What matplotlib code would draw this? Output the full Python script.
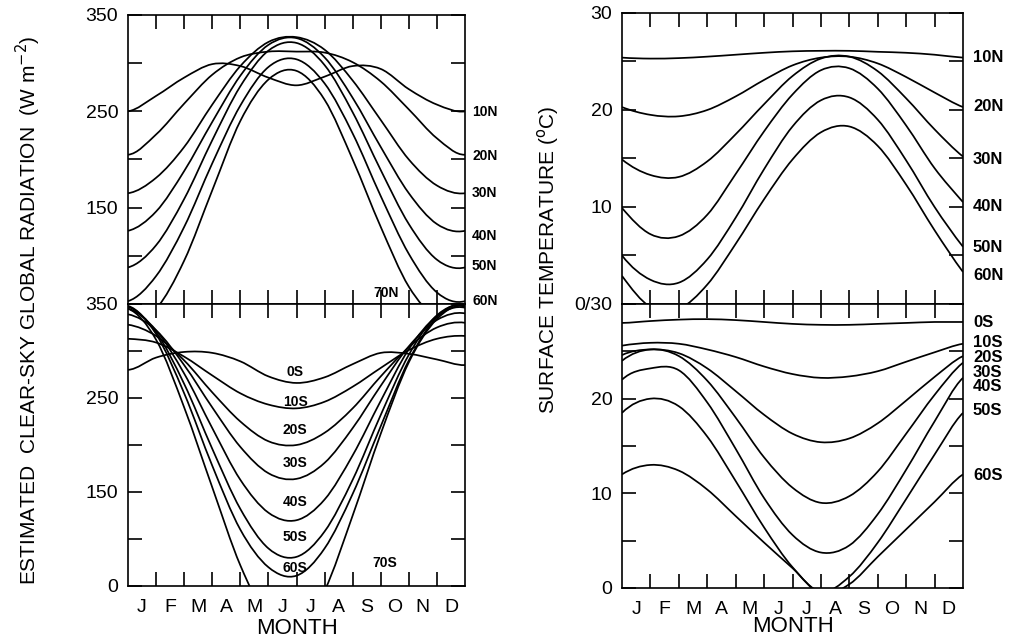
"""Seasonal cycle of clear-sky global radiation and surface temperature by latitude band."""
import numpy as np
import matplotlib
matplotlib.use("Agg")
import matplotlib.pyplot as plt
from matplotlib.path import Path
from matplotlib.patches import PathPatch

plt.rcParams['font.family'] = ['Liberation Sans', 'DejaVu Sans']

MONTHS = ["J", "F", "M", "A", "M", "J", "J", "A", "S", "O", "N", "D"]
edges = np.arange(13)          # month boundaries, 1 Jan .. 31 Dec

# --- estimated clear-sky global radiation (W m-2), read at month boundaries ---
rad_10n = [250, 266, 285, 299, 297, 285, 277, 286, 297, 294, 273, 257, 250]
rad_20n = [205, 226, 258, 288, 306, 312, 312, 311, 301, 281, 252, 222, 205]
rad_30n = [165, 181, 213, 257, 297, 322, 327, 314, 282, 241, 200, 173, 165]
rad_40n = [126, 146, 188, 239, 287, 319, 326, 306, 264, 213, 165, 133, 126]
rad_50n = [88, 111, 159, 220, 276, 313, 321, 298, 249, 189, 133, 96, 88]
rad_60n = [53, 79, 130, 196, 256, 296, 304, 279, 227, 162, 102, 62, 53]
rad_70n = [30, 45, 95, 168, 240, 283, 292, 262, 200, 130, 68, 35, 30]

rad_0s = [280, 293, 299, 298, 289, 273, 266, 272, 286, 298, 297, 291, 285]
rad_10s = [313, 309, 294, 274, 255, 243, 239, 246, 262, 282, 301, 313, 316]
rad_20s = [328, 316, 290, 256, 225, 204, 200, 213, 239, 273, 304, 325, 330]
rad_30s = [339, 322, 285, 240, 198, 170, 164, 181, 218, 263, 305, 333, 340]
rad_40s = [345, 322, 276, 218, 163, 128, 120, 142, 189, 247, 302, 337, 346]
rad_50s = [347, 320, 265, 196, 132, 90, 81, 108, 163, 232, 296, 338, 348]
rad_60s = [348, 318, 255, 178, 110, 70, 61, 90, 148, 220, 290, 336, 349]
rad_70s = [345, 312, 240, 155, 72, 15, 0, 45, 125, 212, 288, 334, 347]

# --- surface temperature (deg C) ---
tmp_10n = [25.4, 25.3, 25.35, 25.5, 25.7, 25.9, 26.05, 26.1, 26.1, 26.0, 25.9, 25.7, 25.4]
tmp_20n = [20.3, 19.5, 19.35, 20.0, 21.4, 23.1, 24.6, 25.4, 25.5, 24.8, 23.4, 21.8, 20.3]
tmp_30n = [14.9, 13.3, 13.1, 14.7, 17.5, 20.6, 23.5, 25.3, 25.5, 24.0, 21.2, 18.0, 15.2]
tmp_40n = [9.9, 7.2, 7.0, 9.2, 13.4, 17.8, 21.6, 24.1, 24.3, 22.2, 18.4, 14.0, 10.5]
tmp_50n = [5.0, 2.5, 2.2, 4.6, 8.9, 13.9, 18.3, 21.0, 21.3, 19.0, 14.8, 10.0, 5.9]
tmp_60n = [2.9, -0.3, -0.5, 2.0, 6.2, 10.8, 14.9, 17.7, 18.3, 16.3, 12.3, 7.6, 3.3]

tmp_0s = [28.0, 28.2, 28.35, 28.4, 28.3, 28.1, 27.9, 27.8, 27.8, 27.9, 28.0, 28.1, 28.1]
tmp_10s = [25.6, 25.9, 25.8, 25.2, 24.4, 23.4, 22.6, 22.2, 22.35, 22.9, 23.9, 24.9, 25.8]
tmp_20s = [24.6, 25.2, 24.8, 23.2, 20.8, 18.3, 16.3, 15.4, 15.8, 17.4, 19.8, 22.3, 24.5]
tmp_30s = [24.0, 25.2, 24.5, 21.9, 18.0, 13.8, 10.6, 9.0, 9.7, 12.3, 16.3, 20.4, 23.8]
tmp_40s = [22.0, 23.2, 23.0, 19.6, 14.7, 9.5, 5.6, 3.75, 4.5, 7.8, 12.5, 17.6, 22.2]
tmp_50s = [18.5, 20.0, 19.2, 16.0, 11.3, 6.4, 2.2, -0.4, 1.2, 4.8, 9.4, 14.1, 18.5]
tmp_60s = [12.0, 13.0, 12.4, 10.4, 7.6, 4.8, 2.1, -0.6, 0.4, 3.3, 6.2, 9.1, 12.0]

# curve labels and where they sit (data units)
rad_n_names = ["10N", "20N", "30N", "40N", "50N", "60N"]
rad_n_label_y = [249, 204, 165, 121, 89, 53]
rad_s_names = ["0S", "10S", "20S", "30S", "40S", "50S", "60S"]
rad_s_label_y = [278, 246, 216, 181, 139, 102, 69]
tmp_n_names = ["10N", "20N", "30N", "40N", "50N", "60N"]
tmp_n_label_y = [25.4, 20.4, 14.9, 10.0, 5.8, 2.9]
tmp_s_names = ["0S", "10S", "20S", "30S", "40S", "50S", "60S"]
tmp_s_label_y = [28.0, 25.9, 24.3, 22.8, 21.3, 18.8, 11.9]


def smooth_path(x, y):
    """Catmull-Rom through the points, drawn as cubic Bezier; year wraps Dec->Jan."""
    x = np.asarray(x, float); y = np.asarray(y, float)
    xp = np.concatenate([[x[0] - 1], x, [x[-1] + 1]])
    yp = np.concatenate([[y[-2]], y, [y[1]]])
    verts = [(xp[1], yp[1])]
    codes = [Path.MOVETO]
    for i in range(1, len(xp) - 2):
        c1 = (xp[i] + (xp[i + 1] - xp[i - 1]) / 6, yp[i] + (yp[i + 1] - yp[i - 1]) / 6)
        c2 = (xp[i + 1] - (xp[i + 2] - xp[i]) / 6, yp[i + 1] - (yp[i + 2] - yp[i]) / 6)
        verts += [c1, c2, (xp[i + 1], yp[i + 1])]
        codes += [Path.CURVE4] * 3
    return Path(verts, codes)


def draw(ax, series):
    for vals in series:
        ax.add_patch(PathPatch(smooth_path(edges, vals), fill=False, ec="black", lw=1.25))


def setup(ax, ylo, yhi, step, ylabels, month_labels):
    ax.set_xlim(0, 12); ax.set_ylim(ylo, yhi)
    ax.set_xticks(edges[1:-1]); ax.set_xticklabels([])
    ax.set_xticks(np.arange(12) + 0.5, minor=True)
    ax.set_xticklabels(MONTHS if month_labels else [], minor=True, fontsize=14)
    ticks = np.arange(ylo, yhi + step / 2, step)
    ax.set_yticks(ticks, [ylabels.get(t, "") for t in ticks], fontsize=14)
    ax.tick_params(which="major", direction="in", length=10, width=1.2,
                   top=True, bottom=True, left=True, right=True, pad=7)
    ax.tick_params(which="minor", length=0, pad=9)
    for s in ax.spines.values():
        s.set_linewidth(1.2)


fig = plt.figure(figsize=(10.13, 6.43), dpi=100)
W, H = 1013, 643
def add_ax(x0, y0, x1, y1):
    return fig.add_axes([x0 / W, 1 - y1 / H, (x1 - x0) / W, (y1 - y0) / H])

ax_rn = add_ax(128, 15, 465, 304)
ax_rs = add_ax(128, 304, 465, 586)
ax_tn = add_ax(622, 13, 963, 304)
ax_ts = add_ax(622, 304, 963, 588)

draw(ax_rn, [rad_10n, rad_20n, rad_30n, rad_40n, rad_50n, rad_60n, rad_70n])
draw(ax_rs, [rad_0s, rad_10s, rad_20s, rad_30s, rad_40s, rad_50s, rad_60s, rad_70s])
draw(ax_tn, [tmp_10n, tmp_20n, tmp_30n, tmp_40n, tmp_50n, tmp_60n])
draw(ax_ts, [tmp_0s, tmp_10s, tmp_20s, tmp_30s, tmp_40s, tmp_50s, tmp_60s])

setup(ax_rn, 50, 350, 50, {350: "350", 250: "250", 150: "150"}, False)
setup(ax_rs, 50, 350, 50, {350: "350", 250: "250", 150: "150", 50: "0"}, True)
setup(ax_tn, 0, 30, 5, {30: "30", 20: "20", 10: "10", 0: "0/30"}, False)
setup(ax_ts, 0, 30, 5, {20: "20", 10: "10", 0: "0"}, True)

lab = dict(fontsize=10, fontweight="bold", va="center", ha="left", clip_on=False)
for name, yv in zip(rad_n_names, rad_n_label_y):
    ax_rn.text(12.25, yv, name, **lab)
ax_rn.text(8.75, 61, "70N", **lab)
for name, yv in zip(rad_s_names, rad_s_label_y):
    ax_rs.text(5.95, yv, name, **{**lab, "ha": "center"})
ax_rs.text(9.15, 74, "70S", **{**lab, "ha": "center"})

lab_r = dict(lab, fontsize=12)
for name, yv in zip(tmp_n_names, tmp_n_label_y):
    ax_tn.text(12.35, yv, name, **lab_r)
for name, yv in zip(tmp_s_names, tmp_s_label_y):
    ax_ts.text(12.35, yv, name, **lab_r)

fig.text(28 / W, 1 - 310 / H, "ESTIMATED  CLEAR-SKY GLOBAL RADIATION  (W m$^{-2}$)",
         rotation=90, ha="center", va="center", fontsize=15)
fig.text(548 / W, 1 - 260 / H, "SURFACE TEMPERATURE ($^{\\mathrm{o}}$C)",
         rotation=90, ha="center", va="center", fontsize=15)
fig.text(297 / W, 1 - 628 / H, "MONTH", ha="center", va="center", fontsize=16)
fig.text(793 / W, 1 - 627 / H, "MONTH", ha="center", va="center", fontsize=16)

fig.savefig("out.png", dpi=100)
